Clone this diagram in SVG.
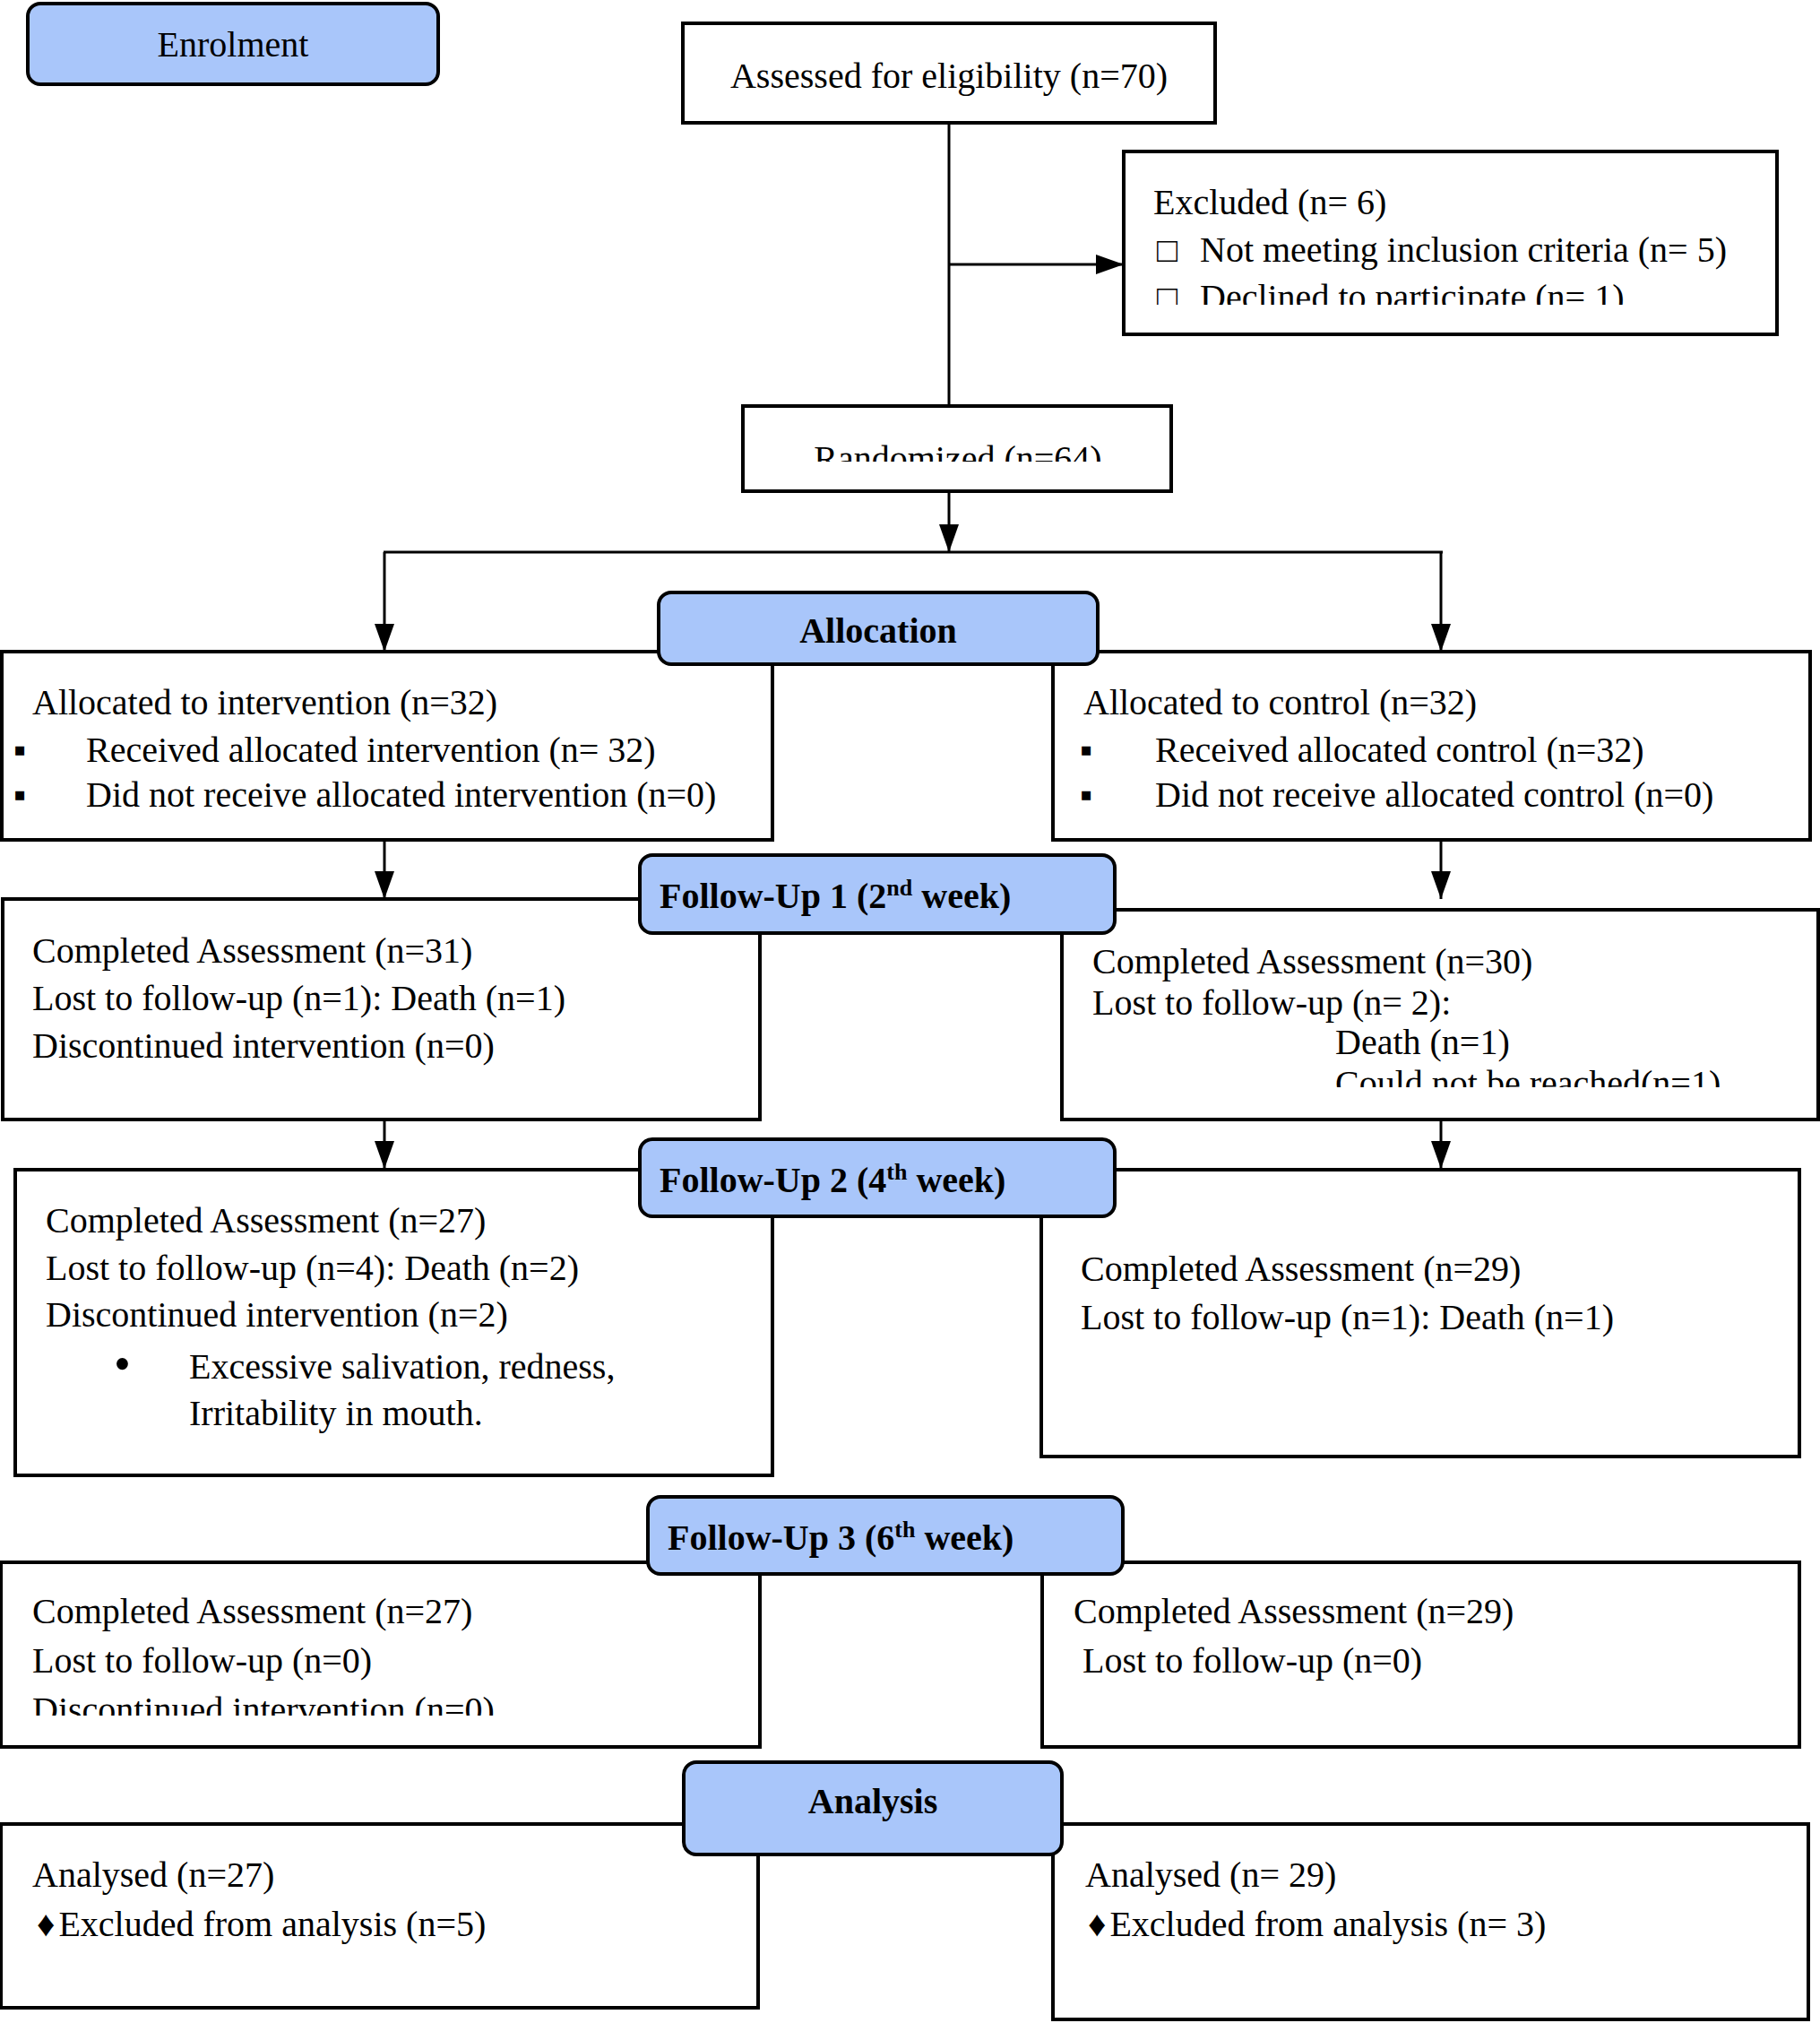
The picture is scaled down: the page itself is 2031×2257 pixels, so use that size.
<svg xmlns="http://www.w3.org/2000/svg" width="2031" height="2257" viewBox="0 0 2031 2257">
<style>
.box{fill:#fff;stroke:#000;stroke-width:4}
.hdr{fill:#a9c6fa;stroke:#000;stroke-width:4}
.t{font-family:"Liberation Serif","Times New Roman",serif;font-size:40px;fill:#000}
.b{font-weight:bold}
.c{text-anchor:middle}
.sup{font-size:26px}
.ln{stroke:#000;stroke-width:3;fill:none}
.sq{font-size:38px}
</style>
<defs>
<marker id="ah" markerUnits="userSpaceOnUse" markerWidth="34" markerHeight="24" refX="31" refY="11" orient="auto">
<path d="M0,0 L31,11 L0,22 z" fill="#000"/>
</marker>
<clipPath id="cEx"><rect x="1254" y="169" width="729" height="171"/></clipPath>
<clipPath id="cRa"><rect x="829" y="453" width="478" height="62"/></clipPath>
<clipPath id="cF1"><rect x="1185" y="1015" width="844" height="198"/></clipPath>
<clipPath id="cF3"><rect x="1" y="1743" width="847" height="171"/></clipPath>
</defs>

<g id="connectors">
<line class="ln" x1="1059" y1="137" x2="1059" y2="453"/>
<line class="ln" x1="1059" y1="295" x2="1254" y2="295" stroke-width="4" marker-end="url(#ah)"/>
<line class="ln" x1="1059" y1="548" x2="1059" y2="616" marker-end="url(#ah)"/>
<line class="ln" x1="428" y1="616" x2="1610" y2="616" stroke-width="4"/>
<line class="ln" x1="429" y1="616" x2="429" y2="727" marker-end="url(#ah)"/>
<line class="ln" x1="1608" y1="616" x2="1608" y2="727" marker-end="url(#ah)"/>
<line class="ln" x1="429" y1="937" x2="429" y2="1003" marker-end="url(#ah)"/>
<line class="ln" x1="1608" y1="937" x2="1608" y2="1003" marker-end="url(#ah)"/>
<line class="ln" x1="429" y1="1249" x2="429" y2="1304" marker-end="url(#ah)"/>
<line class="ln" x1="1608" y1="1249" x2="1608" y2="1304" marker-end="url(#ah)"/>
</g>

<g id="enrolment">
<rect class="hdr" x="31" y="4" width="458" height="90" rx="14"/>
<text class="t c" x="260" y="63">Enrolment</text>
</g>

<g id="assessed">
<rect class="box" x="762" y="26" width="594" height="111"/>
<text class="t c" x="1059" y="98">Assessed for eligibility (n=70)</text>
</g>

<g id="excluded">
<rect class="box" x="1254" y="169" width="729" height="204"/>
<g clip-path="url(#cEx)">
<text class="t" x="1287" y="239">Excluded (n= 6)</text>
<text class="t sq" x="1291" y="292">□</text>
<text class="t" x="1339" y="292">Not meeting inclusion criteria (n= 5)</text>
<text class="t sq" x="1291" y="345">□</text>
<text class="t" x="1339" y="345">Declined to participate (n= 1)</text>
</g>
</g>

<g id="randomized">
<rect class="box" x="829" y="453" width="478" height="95"/>
<g clip-path="url(#cRa)">
<text class="t c" x="1069" y="525">Randomized (n=64)</text>
</g>
</g>

<g id="alloc-left">
<rect class="box" x="2" y="727" width="860" height="210"/>
<text class="t" x="36" y="797">Allocated to intervention (n=32)</text>
<text class="t" x="15" y="850">▪</text>
<text class="t" x="96" y="850">Received allocated intervention (n= 32)</text>
<text class="t" x="15" y="900">▪</text>
<text class="t" x="96" y="900">Did not receive allocated intervention (n=0)</text>
</g>

<g id="alloc-right">
<rect class="box" x="1175" y="727" width="845" height="210"/>
<text class="t" x="1209" y="797">Allocated to control (n=32)</text>
<text class="t" x="1205" y="850">▪</text>
<text class="t" x="1289" y="850">Received allocated control (n=32)</text>
<text class="t" x="1205" y="900">▪</text>
<text class="t" x="1289" y="900">Did not receive allocated control (n=0)</text>
</g>

<g id="allocation">
<rect class="hdr" x="735" y="661" width="490" height="80" rx="14"/>
<text class="t b c" x="980" y="717">Allocation</text>
</g>

<g id="fu1-left">
<rect class="box" x="3" y="1003" width="845" height="246"/>
<text class="t" x="36" y="1074">Completed Assessment (n=31)</text>
<text class="t" x="36" y="1127">Lost to follow-up (n=1): Death (n=1)</text>
<text class="t" x="36" y="1180">Discontinued intervention (n=0)</text>
</g>

<g id="fu1-right">
<rect class="box" x="1185" y="1015" width="844" height="234"/>
<g clip-path="url(#cF1)">
<text class="t" x="1219" y="1086">Completed Assessment (n=30)</text>
<text class="t" x="1219" y="1132">Lost to follow-up (n= 2):</text>
<text class="t" x="1490" y="1176">Death (n=1)</text>
<text class="t" x="1490" y="1222">Could not be reached(n=1)</text>
</g>
</g>

<g id="fu1">
<rect class="hdr" x="714" y="954" width="530" height="87" rx="14"/>
<text class="t b" x="736" y="1013">Follow-Up 1 (2<tspan class="sup" dy="-14">nd</tspan><tspan dy="14"> week)</tspan></text>
</g>

<g id="fu2-left">
<rect class="box" x="17" y="1305" width="845" height="341"/>
<text class="t" x="51" y="1375">Completed Assessment (n=27)</text>
<text class="t" x="51" y="1428">Lost to follow-up (n=4): Death (n=2)</text>
<text class="t" x="51" y="1480">Discontinued intervention (n=2)</text>
<text class="t" x="127" y="1540" style="font-size:54px">•</text>
<text class="t" x="211" y="1538">Excessive salivation, redness,</text>
<text class="t" x="211" y="1590">Irritability in mouth.</text>
</g>

<g id="fu2-right">
<rect class="box" x="1162" y="1305" width="846" height="320"/>
<text class="t" x="1206" y="1429">Completed Assessment (n=29)</text>
<text class="t" x="1206" y="1483">Lost to follow-up (n=1): Death (n=1)</text>
</g>

<g id="fu2">
<rect class="hdr" x="714" y="1271" width="530" height="86" rx="14"/>
<text class="t b" x="736" y="1330">Follow-Up 2 (4<tspan class="sup" dy="-14">th</tspan><tspan dy="14"> week)</tspan></text>
</g>

<g id="fu3-left">
<rect class="box" x="1" y="1743" width="847" height="206"/>
<g clip-path="url(#cF3)">
<text class="t" x="36" y="1811">Completed Assessment (n=27)</text>
<text class="t" x="36" y="1866">Lost to follow-up (n=0)</text>
<text class="t" x="36" y="1921">Discontinued intervention (n=0)</text>
</g>
</g>

<g id="fu3-right">
<rect class="box" x="1163" y="1743" width="845" height="206"/>
<text class="t" x="1198" y="1811">Completed Assessment (n=29)</text>
<text class="t" x="1208" y="1866">Lost to follow-up (n=0)</text>
</g>

<g id="fu3">
<rect class="hdr" x="723" y="1670" width="530" height="86" rx="14"/>
<text class="t b" x="745" y="1729">Follow-Up 3 (6<tspan class="sup" dy="-14">th</tspan><tspan dy="14"> week)</tspan></text>
</g>

<g id="analysis-left">
<rect class="box" x="1" y="2035" width="845" height="205"/>
<text class="t" x="36" y="2105">Analysed (n=27)</text>
<text class="t" x="41" y="2160">♦<tspan dx="4">Excluded from analysis (n=5)</tspan></text>
</g>

<g id="analysis-right">
<rect class="box" x="1175" y="2035" width="843" height="218"/>
<text class="t" x="1211" y="2105">Analysed (n= 29)</text>
<text class="t" x="1214" y="2160">♦<tspan dx="4">Excluded from analysis (n= 3)</tspan></text>
</g>

<g id="analysis">
<rect class="hdr" x="763" y="1966" width="422" height="103" rx="14"/>
<text class="t b c" x="974" y="2023">Analysis</text>
</g>
</svg>
